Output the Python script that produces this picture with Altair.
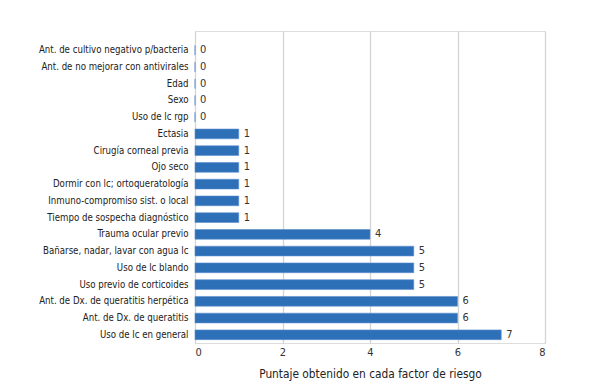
import altair as alt
import pandas as pd

categories = [
    "Ant. de cultivo negativo p/bacteria",
    "Ant. de no mejorar con antivirales",
    "Edad",
    "Sexo",
    "Uso de lc rgp",
    "Ectasia",
    "Cirugía corneal previa",
    "Ojo seco",
    "Dormir con lc; ortoqueratología",
    "Inmuno-compromiso sist. o local",
    "Tiempo de sospecha diagnóstico",
    "Trauma ocular previo",
    "Bañarse, nadar, lavar con agua lc",
    "Uso de lc blando",
    "Uso previo de corticoides",
    "Ant. de Dx. de queratitis herpética",
    "Ant. de Dx. de queratitis",
    "Uso de lc en general",
]
values = [0, 0, 0, 0, 0, 1, 1, 1, 1, 1, 1, 4, 5, 5, 5, 6, 6, 7]
x_ticks = [0, 2, 4, 6, 8]

df = pd.DataFrame({"factor": categories, "puntaje": values})

FONT = "DejaVu Sans Condensed"

y_enc = alt.Y(
    "factor:N",
    sort=categories,
    title=None,
    scale=alt.Scale(paddingInner=0.42, paddingOuter=0.53, align=0.81),
    axis=alt.Axis(ticks=False, domain=False, labelPadding=7, labelFontSize=9.6,
                  labelColor="#222222", labelFont=FONT, labelLimit=300),
)
x_enc = alt.X(
    "puntaje:Q",
    title="Puntaje obtenido en cada factor de riesgo",
    scale=alt.Scale(domain=[0, 8], nice=False),
    axis=alt.Axis(values=x_ticks, grid=True, gridColor="#d4d4d4", gridWidth=1.3,
                  domain=False, ticks=False, labelPadding=3, labelFontSize=11,
                  labelColor="#333333", labelFont=FONT, titleFont=FONT,
                  titleFontSize=11.8, titleFontWeight="normal", titleColor="#222222",
                  titlePadding=11),
)

bars = alt.Chart(df).mark_bar(color="#2e70b8", stroke="#5b8fd0", strokeWidth=0.6).encode(
    x=x_enc, y=y_enc
)
labels = alt.Chart(df).mark_text(align="left", dx=5, fontSize=11, font=FONT,
                                 color="#333333").encode(
    x="puntaje:Q", y=alt.Y("factor:N", sort=categories), text="puntaje:Q"
)

chart = (
    alt.layer(bars, labels)
    .properties(width=350, height=312,
                autosize=alt.AutoSizeParams(type="none"),
                padding={"left": 187, "top": 23, "right": 45, "bottom": 40})
    .configure_view(stroke=None)
    .configure(background="white")
)

chart.save("out.html", embed_options={"renderer": "svg", "actions": False})
